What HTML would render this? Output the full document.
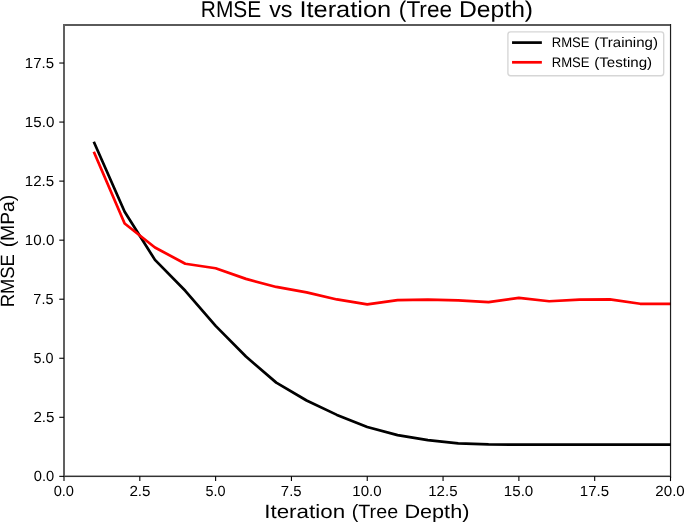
<!DOCTYPE html>
<html><head><meta charset="utf-8"><title>RMSE vs Iteration (Tree Depth)</title>
<style>
html,body{margin:0;padding:0;background:#fff;}
body{width:685px;height:523px;overflow:hidden;}
svg{display:block;will-change:transform;}
text{font-family:"Liberation Sans",sans-serif;fill:#000;text-rendering:geometricPrecision;}
</style></head>
<body>
<svg width="685" height="523" viewBox="0 0 685 523">
<rect width="685" height="523" fill="#fff"/>
<defs><clipPath id="ax"><rect x="64.00" y="25.00" width="606.80" height="451.35"/></clipPath></defs>
<g clip-path="url(#ax)" fill="none" stroke-width="2.710" stroke-linejoin="round" stroke-linecap="square">
<polyline stroke="#000" points="94.33,143.00 124.65,211.68 154.97,259.90 185.30,290.80 215.62,325.90 245.95,356.50 276.27,382.65 306.60,400.50 336.93,414.90 367.25,426.95 397.57,435.10 427.90,440.10 458.23,443.40 488.55,444.40 518.88,444.60 549.20,444.60 579.52,444.60 609.85,444.60 640.17,444.60 670.50,444.60"/>
<polyline stroke="#f00" points="94.33,152.91 124.65,223.48 154.97,247.50 185.30,263.75 215.62,268.25 245.95,278.90 276.27,286.95 306.60,292.43 336.93,299.45 367.25,304.40 397.57,300.10 427.90,299.60 458.23,300.45 488.55,302.06 518.88,297.83 549.20,301.24 579.52,299.53 609.85,299.30 640.17,303.78 670.50,303.78"/>
</g>
<g stroke="#000" stroke-width="1.100" fill="none">
<line x1="64.00" y1="476.35" x2="64.00" y2="481.09"/>
<line x1="139.81" y1="476.35" x2="139.81" y2="481.09"/>
<line x1="215.62" y1="476.35" x2="215.62" y2="481.09"/>
<line x1="291.44" y1="476.35" x2="291.44" y2="481.09"/>
<line x1="367.25" y1="476.35" x2="367.25" y2="481.09"/>
<line x1="443.06" y1="476.35" x2="443.06" y2="481.09"/>
<line x1="518.88" y1="476.35" x2="518.88" y2="481.09"/>
<line x1="594.69" y1="476.35" x2="594.69" y2="481.09"/>
<line x1="670.50" y1="476.35" x2="670.50" y2="481.09"/>
<line x1="64.00" y1="476.35" x2="59.26" y2="476.35"/>
<line x1="64.00" y1="417.30" x2="59.26" y2="417.30"/>
<line x1="64.00" y1="358.26" x2="59.26" y2="358.26"/>
<line x1="64.00" y1="299.21" x2="59.26" y2="299.21"/>
<line x1="64.00" y1="240.16" x2="59.26" y2="240.16"/>
<line x1="64.00" y1="181.12" x2="59.26" y2="181.12"/>
<line x1="64.00" y1="122.07" x2="59.26" y2="122.07"/>
<line x1="64.00" y1="63.03" x2="59.26" y2="63.03"/>
</g>
<g shape-rendering="crispEdges" fill="#000">
<rect x="63" y="24" width="2" height="453" fill-opacity="0.624"/>
<rect x="65" y="24" width="605" height="2" fill-opacity="0.647"/>
<rect x="669" y="26" width="1" height="449" fill-opacity="0.06"/>
<rect x="670" y="24" width="1" height="454" fill-opacity="0.88"/>
<rect x="671" y="24" width="1" height="454" fill-opacity="0.12"/>
<rect x="65" y="475" width="605" height="1" fill-opacity="0.35"/>
<rect x="65" y="476" width="605" height="1" fill-opacity="0.80"/>
<rect x="63" y="477" width="607" height="1" fill-opacity="0.05"/>
</g>
<rect x="507.90" y="31.90" width="155.80" height="43.90" rx="2.71" ry="2.71" fill="#fff" fill-opacity="0.8" stroke="#d6d6d6" stroke-width="1.36"/>
<g stroke-width="2.710" stroke-linecap="square">
<line x1="513.40" y1="42.60" x2="540.50" y2="42.60" stroke="#000"/>
<line x1="513.40" y1="62.30" x2="540.50" y2="62.30" stroke="#f00"/>
</g>
<text x="200.87" y="17.00" font-size="22.800" textLength="60.39" lengthAdjust="spacingAndGlyphs">RMSE</text>
<text x="269.19" y="17.00" font-size="22.800" textLength="23.33" lengthAdjust="spacingAndGlyphs">vs</text>
<text x="299.40" y="17.00" font-size="22.800" textLength="91.86" lengthAdjust="spacingAndGlyphs">Iteration</text>
<text x="398.86" y="17.00" font-size="22.800" textLength="53.19" lengthAdjust="spacingAndGlyphs">(Tree</text>
<text x="458.98" y="17.00" font-size="22.800" textLength="74.14" lengthAdjust="spacingAndGlyphs">Depth)</text>
<text x="264.20" y="518.00" font-size="19.200" textLength="80.94" lengthAdjust="spacingAndGlyphs">Iteration</text>
<text x="351.76" y="518.00" font-size="19.200" textLength="46.36" lengthAdjust="spacingAndGlyphs">(Tree</text>
<text x="404.40" y="518.00" font-size="19.200" textLength="65.00" lengthAdjust="spacingAndGlyphs">Depth)</text>
<text transform="rotate(-90)" x="-307.31" y="14.00" font-size="19.200" textLength="53.07" lengthAdjust="spacingAndGlyphs">RMSE</text>
<text transform="rotate(-90)" x="-247.37" y="14.00" font-size="19.200" textLength="52.61" lengthAdjust="spacingAndGlyphs">(MPa)</text>
<text x="53.68" y="496.00" font-size="14.600" textLength="20.34" lengthAdjust="spacingAndGlyphs">0.0</text>
<text x="129.41" y="496.00" font-size="14.600" textLength="21.14" lengthAdjust="spacingAndGlyphs">2.5</text>
<text x="205.40" y="496.00" font-size="14.600" textLength="20.06" lengthAdjust="spacingAndGlyphs">5.0</text>
<text x="280.87" y="496.00" font-size="14.600" textLength="20.75" lengthAdjust="spacingAndGlyphs">7.5</text>
<text x="352.32" y="496.00" font-size="14.600" textLength="29.28" lengthAdjust="spacingAndGlyphs">10.0</text>
<text x="428.20" y="496.00" font-size="14.600" textLength="29.36" lengthAdjust="spacingAndGlyphs">12.5</text>
<text x="503.81" y="496.00" font-size="14.600" textLength="29.50" lengthAdjust="spacingAndGlyphs">15.0</text>
<text x="579.89" y="496.00" font-size="14.600" textLength="29.25" lengthAdjust="spacingAndGlyphs">17.5</text>
<text x="655.37" y="496.00" font-size="14.600" textLength="29.39" lengthAdjust="spacingAndGlyphs">20.0</text>
<text x="33.77" y="481.00" font-size="14.600" textLength="20.44" lengthAdjust="spacingAndGlyphs">0.0</text>
<text x="33.43" y="422.00" font-size="14.600" textLength="21.07" lengthAdjust="spacingAndGlyphs">2.5</text>
<text x="33.48" y="363.00" font-size="14.600" textLength="20.00" lengthAdjust="spacingAndGlyphs">5.0</text>
<text x="33.37" y="304.00" font-size="14.600" textLength="20.06" lengthAdjust="spacingAndGlyphs">7.5</text>
<text x="24.85" y="245.00" font-size="14.600" textLength="29.45" lengthAdjust="spacingAndGlyphs">10.0</text>
<text x="24.78" y="186.00" font-size="14.600" textLength="29.38" lengthAdjust="spacingAndGlyphs">12.5</text>
<text x="24.85" y="127.00" font-size="14.600" textLength="29.47" lengthAdjust="spacingAndGlyphs">15.0</text>
<text x="24.89" y="68.00" font-size="14.600" textLength="29.17" lengthAdjust="spacingAndGlyphs">17.5</text>
<text x="551.68" y="47.00" font-size="13.900" textLength="37.92" lengthAdjust="spacingAndGlyphs">RMSE</text>
<text x="594.16" y="47.00" font-size="13.900" textLength="63.74" lengthAdjust="spacingAndGlyphs">(Training)</text>
<text x="551.68" y="67.00" font-size="13.900" textLength="37.92" lengthAdjust="spacingAndGlyphs">RMSE</text>
<text x="594.26" y="67.00" font-size="13.900" textLength="57.89" lengthAdjust="spacingAndGlyphs">(Testing)</text>
</svg>
</body></html>
